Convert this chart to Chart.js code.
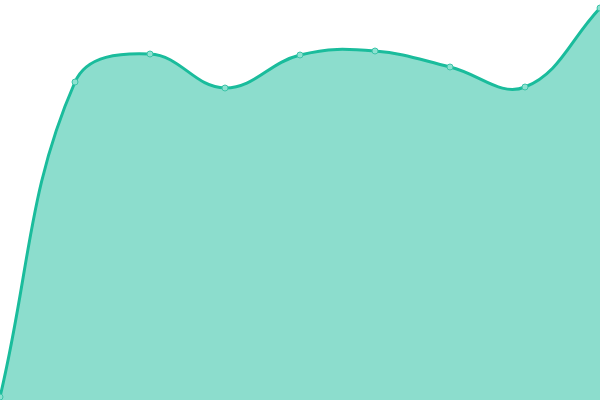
<!DOCTYPE html>
<html>
<head>
<meta charset="utf-8">
<script src="https://cdn.jsdelivr.net/npm/chart.js"></script>
<style>
  html, body { margin: 0; padding: 0; background: #fff; }
  #wrap { width: 600px; height: 400px; }
</style>
</head>
<body>
<div id="wrap"><canvas id="areaChart"></canvas></div>
<script>
// values (y axis 0..400)
const labels = ['1', '2', '3', '4', '5', '6', '7', '8', '9'];
const values = [3, 318, 346, 312, 345, 349, 333, 313, 392];
const yMin = 0;
const yMax = 400;

const ctx = document.getElementById('areaChart');

new Chart(ctx, {
  type: 'line',
  data: {
    labels: labels,
    datasets: [{
      data: values,
      borderColor: '#1abc9c',
      backgroundColor: 'rgba(26, 188, 156, 0.5)',
      borderWidth: 3,
      fill: true,
      tension: 0.4,
      pointRadius: 3,
      pointBackgroundColor: '#8de2d1',
      pointBorderColor: '#3cc4a8',
      pointBorderWidth: 1
    }]
  },
  options: {
    responsive: true,
    maintainAspectRatio: false,
    animation: false,
    layout: { padding: 0, autoPadding: false },
    plugins: {
      legend: { display: false },
      tooltip: { enabled: false }
    },
    scales: {
      x: { display: false },
      y: { display: false, min: yMin, max: yMax }
    }
  }
});
</script>
</body>
</html>
